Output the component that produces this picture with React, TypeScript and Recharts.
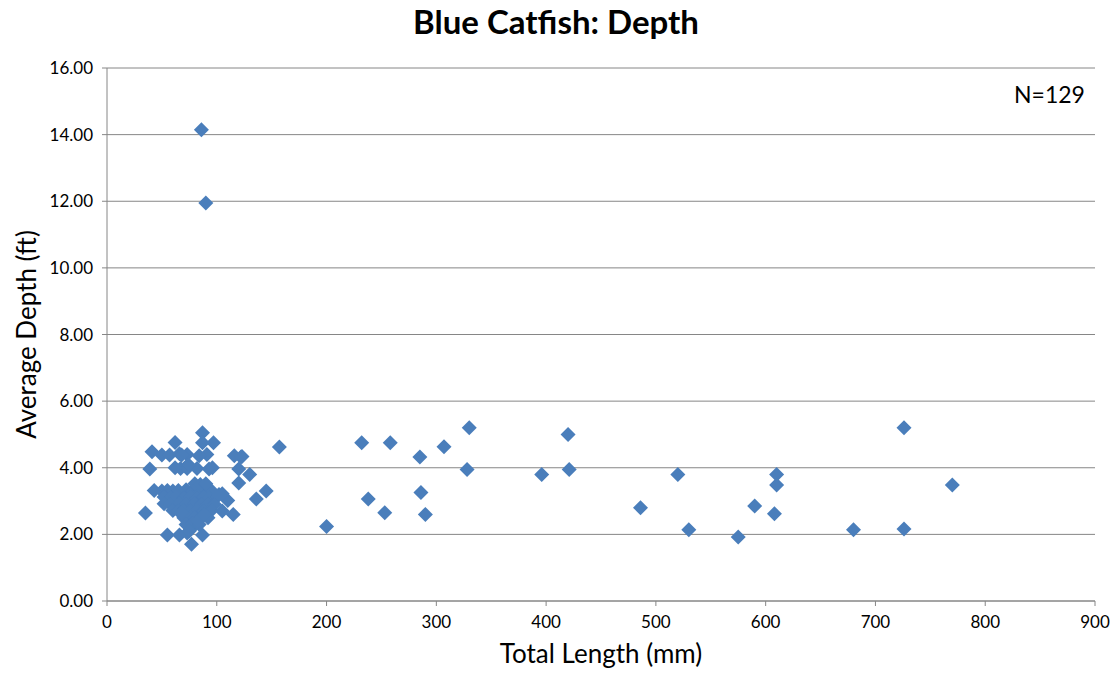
import { ScatterChart, Scatter, XAxis, YAxis, CartesianGrid } from 'recharts'

// Total length (mm) and average depth (ft) per fish
const lengthMm = [
  86, 90, 157, 145, 136, 130, 120, 122, 116, 120, 115, 110,
  200, 232, 238, 253, 258, 285, 286, 290, 307, 328, 330, 396, 420, 421,
  486, 520, 530, 575, 590, 608, 610, 610, 680, 726, 726, 770,
  87, 97, 87, 62, 41, 50, 57, 66, 73, 91, 123,
  39, 67, 73, 82, 93,
  35, 55, 66, 77, 87, 73, 80,
  43, 50, 55, 60, 65, 72, 78, 85, 90, 95,
  52, 58, 63, 70, 76, 82, 88, 93, 100,
  52, 58, 66, 72, 80, 86, 92, 98,
  60, 65, 70, 76, 82, 88, 95, 105,
  70, 76, 80, 86, 92,
  72, 78, 84,
  80, 85, 90, 105,
  62, 68, 74, 84, 96, 102, 68, 75, 83, 89,
]
const depthFt = [
  14.15, 11.95, 4.62, 3.3, 3.06, 3.8, 3.54, 4.32, 4.36, 3.96, 2.6, 3.02,
  2.24, 4.75, 3.06, 2.65, 4.75, 4.32, 3.26, 2.6, 4.63, 3.95, 5.2, 3.8, 5.0, 3.95,
  2.8, 3.8, 2.14, 1.92, 2.85, 2.62, 3.8, 3.48, 2.14, 5.2, 2.16, 3.48,
  5.05, 4.75, 4.75, 4.76, 4.48, 4.38, 4.38, 4.42, 4.4, 4.4, 4.34,
  3.96, 3.98, 3.98, 3.98, 3.96,
  2.64, 1.98, 1.98, 1.7, 1.98, 2.04, 2.28,
  3.32, 3.3, 3.32, 3.3, 3.32, 3.34, 3.3, 3.32, 3.3, 3.32,
  3.12, 3.1, 3.12, 3.1, 3.12, 3.1, 3.12, 3.1, 3.12,
  2.92, 2.9, 2.92, 2.9, 2.92, 2.9, 2.92, 2.9,
  2.72, 2.7, 2.72, 2.7, 2.72, 2.7, 2.72, 2.7,
  2.5, 2.52, 2.5, 2.52, 2.5,
  2.3, 2.32, 2.3,
  3.52, 3.5, 3.52, 3.22,
  4.0, 4.38, 4.1, 4.36, 4.0, 3.2, 2.66, 2.1, 2.4, 2.6,
]

const xTicks = [0, 100, 200, 300, 400, 500, 600, 700, 800, 900]
const yTicks = [0, 2, 4, 6, 8, 10, 12, 14, 16]

const points = lengthMm.map((x, i) => ({ x, y: depthFt[i] }))

const FONT = 'Lato, "Open Sans", sans-serif'
const AXIS = '#868686'

function Diamond(props: { cx?: number; cy?: number }) {
  const { cx = 0, cy = 0 } = props
  const r = 7.5
  return (
    <polygon
      points={`${cx},${cy - r} ${cx + r},${cy} ${cx},${cy + r} ${cx - r},${cy}`}
      fill="#4A7EBB"
    />
  )
}

export default function App() {
  return (
    <div style={{ position: 'absolute', left: 0, top: 0, width: 1120, height: 682, background: '#fff', fontFamily: FONT }}>
      <div style={{ position: 'absolute', top: 1, left: 0, width: 1112, textAlign: 'center', fontSize: 33, fontWeight: 700, color: '#000' }}>
        Blue Catfish: Depth
      </div>
      <div style={{ position: 'absolute', top: 80, left: 1014, fontSize: 23, color: '#000' }}>N=129</div>
      <ScatterChart width={1120} height={682} margin={{ top: 68, right: 25, bottom: 51, left: 47 }}>
        <CartesianGrid horizontal vertical={false} stroke={AXIS} />
        <XAxis
          type="number"
          dataKey="x"
          domain={[0, 900]}
          ticks={xTicks}
          interval={0}
          height={30}
          stroke={AXIS}
          tickSize={5}
          tickMargin={10}
          tick={{ fontSize: 17, fill: '#000', fontFamily: FONT }}
          label={{ value: 'Total Length (mm)', position: 'bottom', offset: 14, fontSize: 26, fill: '#000', fontFamily: FONT }}
        />
        <YAxis
          type="number"
          dataKey="y"
          domain={[0, 16]}
          ticks={yTicks}
          interval={0}
          width={60}
          stroke={AXIS}
          tickSize={5}
          tickMargin={9}
          tickFormatter={(v: number) => v.toFixed(2)}
          tick={{ fontSize: 17, fill: '#000', fontFamily: FONT }}
          label={{ value: 'Average Depth (ft)', angle: -90, position: 'insideLeft', offset: -20, fontSize: 26, fill: '#000', fontFamily: FONT, style: { textAnchor: 'middle' } }}
        />
        <Scatter data={points} shape={Diamond} isAnimationActive={false} />
      </ScatterChart>
    </div>
  )
}
